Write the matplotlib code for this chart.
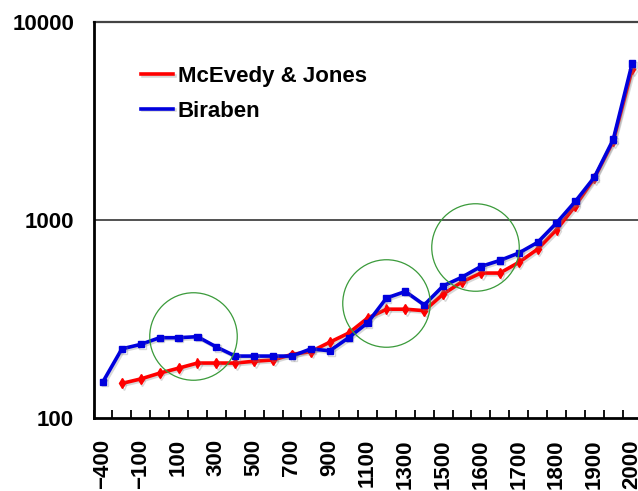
import numpy as np
import matplotlib.pyplot as plt
import matplotlib.patheffects as pe

plt.rcParams['font.family'] = ['Liberation Sans', 'DejaVu Sans']

years = ['-400', '-200', '-100', '0', '100', '200', '300', '400', '500', '600',
         '700', '800', '900', '1000', '1100', '1200', '1300', '1400', '1500',
         '1550', '1600', '1650', '1700', '1750', '1800', '1850', '1900', '1950', '2000']

# world population estimates (millions)
mcevedy = [np.nan, 150, 158, 169, 179, 190, 190, 190, 194, 197,
           210, 217, 242, 269, 320, 355, 355, 349, 423,
           488, 540, 540, 611, 713, 893, 1181, 1625, 2494, 5741]
biraben = [153, 224, 236, 255, 255, 258, 229, 206, 206, 206,
           206, 224, 219, 255, 303, 404, 436, 373, 465,
           515, 583, 625, 681, 771, 966, 1242, 1641, 2544, 6150]

# highlighted regions: (category position, population)
circles_x = [4.78, 15.0, 19.7]
circles_y = [260, 381, 727]

fig = plt.figure(figsize=(6.38, 4.91), dpi=100)
ax = fig.add_axes([0.1466, 0.148, 0.859, 0.808])

x = np.arange(len(years))
shadow = [pe.SimpleLineShadow(offset=(1.2, -1.2), shadow_color='gray', alpha=0.3), pe.Normal()]

ax.plot(x, mcevedy, color='#ff0000', lw=2.6, marker='d', ms=5,
        label='McEvedy & Jones', path_effects=shadow, zorder=3)
ax.plot(x, biraben, color='#0000dd', lw=2.6, marker='s', ms=4.5,
        label='Biraben', path_effects=shadow, zorder=4)

for cx, cy in zip(circles_x, circles_y):
    ax.plot(cx, cy, marker='o', ms=63, mfc='none', mec='#3a9a3a', mew=0.9, zorder=5)

ax.set_yscale('log')
ax.set_ylim(100, 10000)
ax.set_xlim(-0.5, len(years) - 0.5)
ax.set_yticks([100, 1000, 10000])
ax.set_yticklabels(['100', '1000', '10000'], fontsize=16, fontweight='bold')
ax.yaxis.set_minor_locator(plt.NullLocator())
ax.tick_params(axis='y', length=0, pad=14)
ax.axhline(1000, color='#444444', lw=1.3, zorder=1)
ax.axhline(10000, color='#444444', lw=1.6, zorder=1, clip_on=False)

labels = [y.replace('-', '\u2212') for y in years]
ax.set_xticks(x[::2])
ax.set_xticklabels(labels[::2], rotation=90, fontsize=16, fontweight='bold')
ax.set_xticks(np.arange(len(years) + 1) - 0.5, minor=True)
ax.tick_params(axis='x', which='major', length=0, pad=15)
ax.tick_params(axis='x', which='minor', direction='in', length=6, width=1.3)

for side in ['top', 'right']:
    ax.spines[side].set_visible(False)
ax.spines['left'].set_linewidth(2)
ax.spines['bottom'].set_linewidth(2)

ax.legend(loc='upper left', bbox_to_anchor=(0.05, 0.939), frameon=False,
          handlelength=1.45, handletextpad=0.2, labelspacing=0.62,
          prop={'size': 16, 'weight': 'bold'}, markerscale=0)

fig.savefig('out.png', dpi=100)
